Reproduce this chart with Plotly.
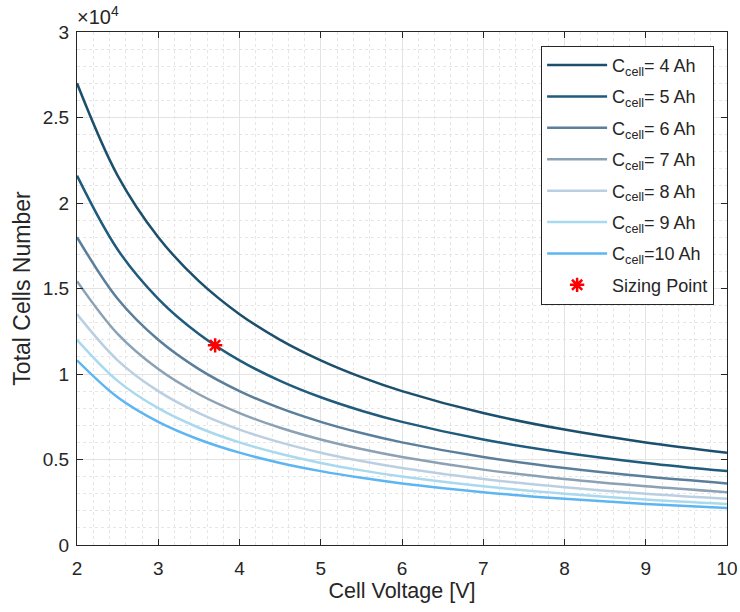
import plotly.graph_objects as go

voltage = [2, 2.5, 3, 3.5, 4, 4.5, 5, 5.5, 6, 7, 8, 9, 10]
capacities = [4, 5, 6, 7, 8, 9, 10]
cells_4ah = [27000, 21600, 18000, 15429, 13500, 12000, 10800, 9818, 9000, 7714, 6750, 6000, 5400]
cells_5ah = [21600, 17280, 14400, 12343, 10800, 9600, 8640, 7855, 7200, 6171, 5400, 4800, 4320]
cells_6ah = [18000, 14400, 12000, 10286, 9000, 8000, 7200, 6545, 6000, 5143, 4500, 4000, 3600]
cells_7ah = [15429, 12343, 10286, 8816, 7714, 6857, 6171, 5610, 5143, 4408, 3857, 3429, 3086]
cells_8ah = [13500, 10800, 9000, 7714, 6750, 6000, 5400, 4909, 4500, 3857, 3375, 3000, 2700]
cells_9ah = [12000, 9600, 8000, 6857, 6000, 5333, 4800, 4364, 4000, 3429, 3000, 2667, 2400]
cells_10ah = [10800, 8640, 7200, 6171, 5400, 4800, 4320, 3927, 3600, 3086, 2700, 2400, 2160]
series = [cells_4ah, cells_5ah, cells_6ah, cells_7ah, cells_8ah, cells_9ah, cells_10ah]
colors = ["#1b4f6c", "#1f5b7c", "#5b7f9b", "#8ba1b4", "#bad0e2", "#a9d9ef", "#5db6f2"]

sizing_v = [3.7]
sizing_n = [11676]

y_tickvals = [0, 5000, 10000, 15000, 20000, 25000, 30000]
y_ticktext = ["0", "0.5", "1", "1.5", "2", "2.5", "3"]
x_tickvals = [2, 3, 4, 5, 6, 7, 8, 9, 10]

fig = go.Figure()
for c, ys, col in zip(capacities, series, colors):
    label = f"C<sub>cell</sub>= {c} Ah" if c < 10 else f"C<sub>cell</sub>=10 Ah"
    fig.add_trace(go.Scatter(x=voltage, y=ys, mode="lines", name=label,
                             line=dict(color=col, width=2.5, shape="spline", smoothing=1.0),
                             legendgroup=str(c)))
fig.add_trace(go.Scatter(x=sizing_v, y=sizing_n, mode="markers", name="Sizing Point",
                         marker=dict(symbol="asterisk", size=12, color="red",
                                     line=dict(color="red", width=2.5)),
                         legendgroup="sp"))

font = "Liberation Sans"
txt = "#262626"
axis_common = dict(
    showline=True, linecolor=txt, linewidth=1, mirror="ticks",
    ticks="inside", ticklen=6, tickcolor=txt, automargin=False,
    showgrid=True, gridcolor="#e3e3e3", gridwidth=1,
    zeroline=False, tickfont=dict(family=font, size=19, color=txt),
)
fig.update_xaxes(range=[2, 10], tickvals=x_tickvals, ticklabelstandoff=6,
                 minor=dict(dtick=0.2, showgrid=True, gridcolor="#e6e6e6", griddash="dot", ticks=""),
                 title=dict(text="Cell Voltage [V]", font=dict(family=font, size=21.5, color=txt), standoff=4),
                 **axis_common)
fig.update_yaxes(range=[0, 30000], tickvals=y_tickvals, ticktext=y_ticktext, ticklabelstandoff=3,
                 minor=dict(dtick=1000, showgrid=True, gridcolor="#e6e6e6", griddash="dot", ticks=""),
                 title=dict(text="Total Cells Number", font=dict(family=font, size=23, color=txt), standoff=5),
                 **axis_common)
fig.update_layout(
    width=740, height=612,
    margin=dict(l=77, r=13, t=32, b=67),
    paper_bgcolor="white", plot_bgcolor="white",
    font=dict(family=font, size=18, color=txt),
    showlegend=True,
    legend=dict(x=0.714, y=0.973, xanchor="left", yanchor="top",
                bgcolor="white", bordercolor=txt, borderwidth=1,
                font=dict(family=font, size=18, color=txt),
                tracegroupgap=5, itemwidth=60),
    annotations=[dict(text="×10<sup>4</sup>", x=0, y=1, xref="paper", yref="paper",
                      xanchor="left", yanchor="bottom", showarrow=False, xshift=-2, yshift=2,
                      font=dict(family=font, size=20, color=txt))],
)
fig.write_html("out.html", config={"displayModeBar": False},
               post_script="document.body.style.margin='0';document.body.style.padding='0';")
